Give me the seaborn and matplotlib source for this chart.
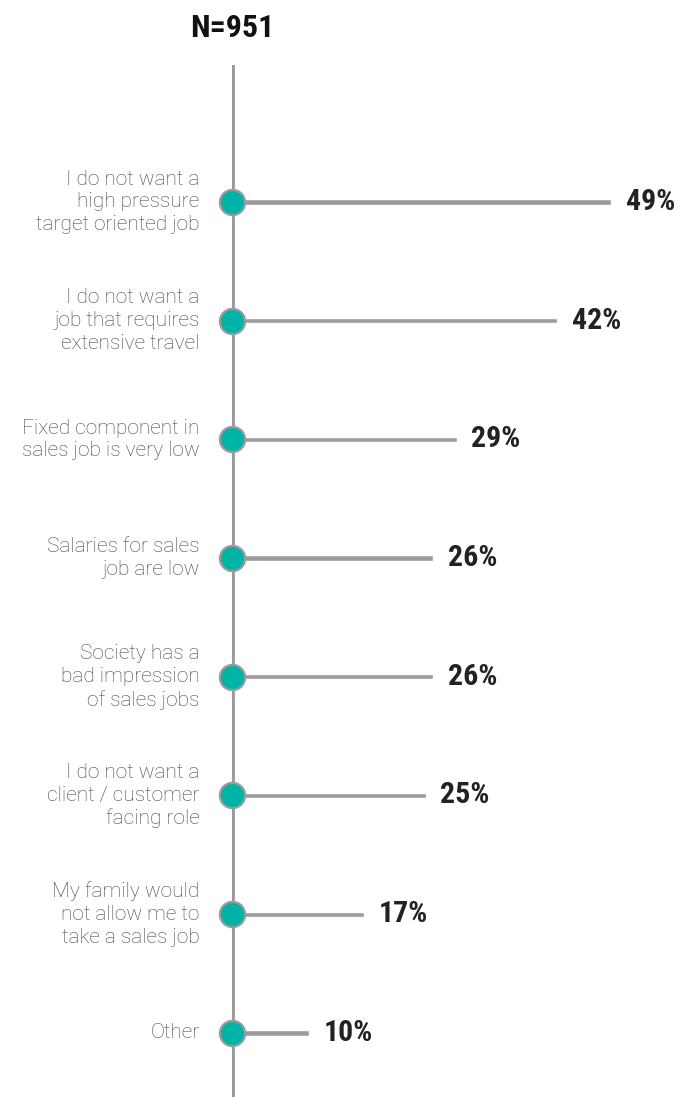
import matplotlib
matplotlib.use("Agg")
import matplotlib.pyplot as plt
import seaborn as sns
import pandas as pd

categories = [
    "I do not want a\nhigh pressure\ntarget oriented job",
    "I do not want a\njob that requires\nextensive travel",
    "Fixed component in\nsales job is very low",
    "Salaries for sales\njob are low",
    "Society has a\nbad impression\nof sales jobs",
    "I do not want a\nclient / customer\nfacing role",
    "My family would\nnot allow me to\ntake a sales job",
    "Other",
]
values = [49, 42, 29, 26, 26, 25, 17, 10]
value_labels = ["49%", "42%", "29%", "26%", "26%", "25%", "17%", "10%"]
title = "N=951"

df = pd.DataFrame({"cat": categories, "val": values, "zero": [0] * len(values)})

sns.set_theme(style="white")
plt.rcParams["font.family"] = ["Roboto", "DejaVu Sans"]

fig = plt.figure(figsize=(6.81, 10.97), dpi=100)
ax = fig.add_axes([232 / 681, 0, 1 - 232 / 681, (1097 - 65) / 1097])

grey = "#9b9b9b"
teal = "#00b3a7"
narrow = ["Roboto Condensed", "Roboto", "DejaVu Sans"]

ax.axvline(0, color=grey, lw=4.2, zorder=1)
sns.barplot(data=df, y="cat", x="val", orient="h", color=grey, width=0.045,
            saturation=1, ax=ax, zorder=2)
sns.scatterplot(data=df, y="cat", x="zero", s=330, color=teal, edgecolor=grey,
                linewidth=1.6, ax=ax, zorder=3, legend=False, clip_on=False)

ax.set_xlim(0, 58)
ax.set_ylim(7.54, -1.154)
ax.set_xlabel("")
ax.set_ylabel("")
ax.set_xticks([])
ax.set_yticks([])
for s in ax.spines.values():
    s.set_visible(False)
ax.patch.set_alpha(0)

for i, (c, v, lab) in enumerate(zip(categories, values, value_labels)):
    ax.text(-4.2, i, c, ha="right", va="center", fontsize=15, color="#444444",
            fontweight="light", linespacing=1.25)
    ax.text(v + 1.9, i, lab, ha="left", va="center", fontsize=21.5, color="#222222",
            fontweight="bold", family=narrow)

fig.text(232 / 681, 1 - 28 / 1097, title, ha="center", va="center", fontsize=23,
         fontweight="bold", family=narrow, color="#111111")

fig.savefig("out.png", dpi=100)
